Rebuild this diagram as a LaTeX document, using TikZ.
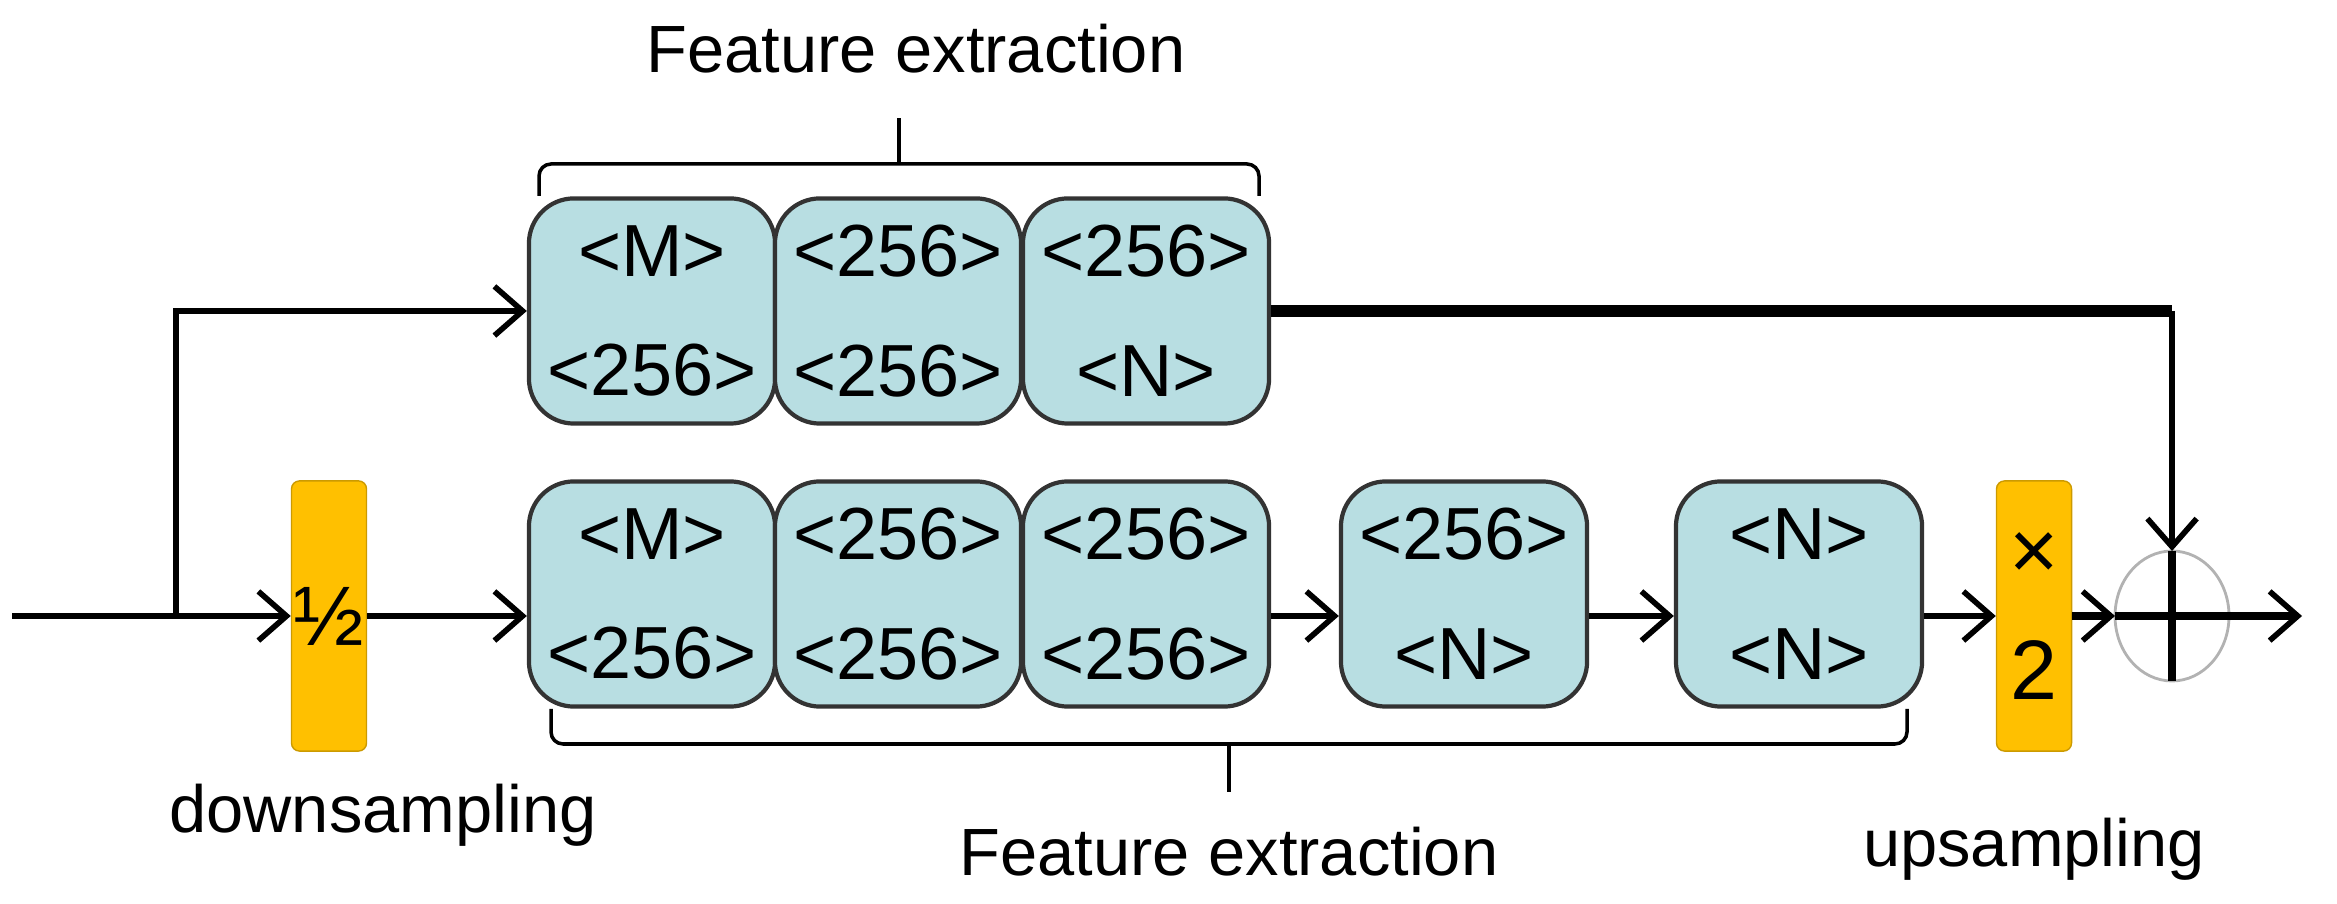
\documentclass[tikz,border=0pt]{standalone}
\usepackage{fontspec}
\setmainfont{Liberation Sans}
\usetikzlibrary{arrows.meta}
\definecolor{boxc}{HTML}{B8DEE2}
\definecolor{orc}{HTML}{FFC000}
\begin{document}
\begin{tikzpicture}[x=0.01cm,y=-0.01cm,
  blk/.style={draw=black!80,line width=1.2pt,fill=boxc,rounded corners=0.45cm,minimum width=2.46cm,minimum height=2.25cm,align=center,inner sep=0pt,font=\fontsize{21}{34}\selectfont},
  smp/.style={draw=orc!80!black,fill=orc,rounded corners=0.08cm,minimum width=0.75cm,minimum height=2.7cm,inner sep=0pt,align=center,font=\fontsize{24}{34}\selectfont},
  lab/.style={font=\fontsize{19}{22}\selectfont},
  arr/.style={line width=1.6pt,-{Straight Barb[length=8pt,width=14pt,line width=1.6pt]}},
  brc/.style={line width=1pt,rounded corners=0.12cm}]
\useasboundingbox (0,0) rectangle (2337,904);
% top row
\node[blk] (t1) at (652,311) {<M>\\<256>};
\node[blk] (t2) at (898,311) {<256>\\<256>};
\node[blk] (t3) at (1146,311) {<256>\\<N>};
% bottom row
\node[blk] (b1) at (652,594) {<M>\\<256>};
\node[blk] (b2) at (898,594) {<256>\\<256>};
\node[blk] (b3) at (1146,594) {<256>\\<256>};
\node[blk] (b4) at (1464,594) {<256>\\<N>};
\node[blk] (b5) at (1799,594) {<N>\\<N>};
\node[smp] (ds) at (329,616) {½};
\node[smp] (us) at (2034,616) {×\\2};
\draw[gray!60,line width=0.8pt] (2172,616) ellipse [x radius=57, y radius=65];
\coordinate (sum) at (2172,616);
\coordinate (in) at (12,616);
\coordinate (br) at (176,616);
\coordinate (out) at (2302,616);
% connectors
\draw[line width=1.6pt] (in) -- (br);
\draw[arr] (br) -- (ds.west);
\draw[arr] (br) |- (t1.west |- 0,311);
\draw[arr] (ds.east) -- (b1.west |- 0,616);
\draw[arr] (b3.east |- 0,616) -- (b4.west |- 0,616);
\draw[arr] (b4.east |- 0,616) -- (b5.west |- 0,616);
\draw[arr] (b5.east |- 0,616) -- (us.west);
\draw[arr,line width=2.4pt] (us.east) -- (2115,616);
\draw[line width=3.2pt] (t3.east |- 0,311) -- (2172,311);
\draw[arr] (2172,311) -- (2172,551);
\draw[arr,line width=2.4pt] (2115,616) -- (out);
\draw[line width=2.4pt] (2172,551) -- (2172,681);
% braces
\draw[brc] (539,196) -- (539,164) -- (1259,164) -- (1259,196);
\draw[line width=1pt] (899,164) -- (899,118);
\draw[brc] (551,709) -- (551,744) -- (1907,744) -- (1907,709);
\draw[line width=1pt] (1229,744) -- (1229,792);
% labels
\node[lab] (f1) at (916,49) {Feature extraction};
\node[lab] (f2) at (1229,852) {Feature extraction};
\node[lab] (dl) at (383,815) {downsampling};
\node[lab] (ul) at (2034,849) {upsampling};
\end{tikzpicture}
\end{document}
